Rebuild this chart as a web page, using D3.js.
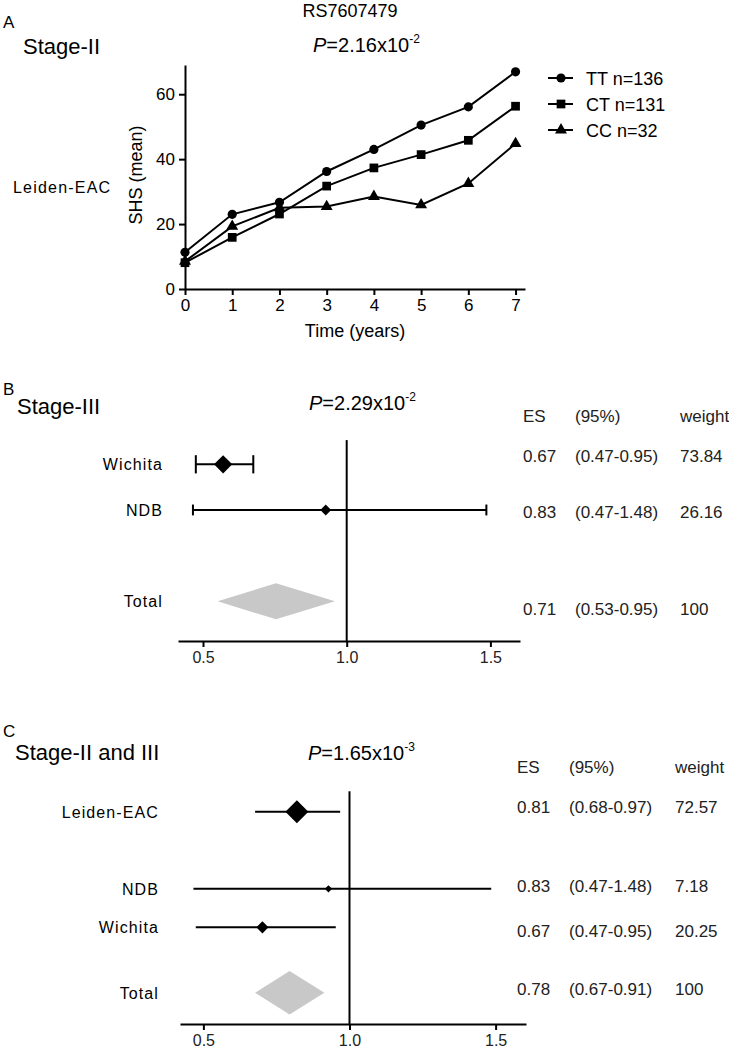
<!DOCTYPE html>
<html>
<head>
<meta charset="utf-8">
<script src="https://cdn.jsdelivr.net/npm/d3@7"></script>
<style>
  body { margin: 0; background: #fff; }
  svg { font-family: "Liberation Sans", Arial, sans-serif; }
</style>
</head>
<body>
<svg id="chart" width="729" height="1050"></svg>
<script>
// ---- panel A: mean SHS over time per genotype
const years = [0, 1, 2, 3, 4, 5, 6, 7];
const genotypes = ["TT n=136", "CT n=131", "CC n=32"];
const ttMeans = [11.3, 23.0, 26.7, 36.2, 43.0, 50.5, 56.1, 66.9];
const ctMeans = [8.1, 15.9, 23.1, 31.7, 37.3, 41.4, 45.8, 56.3];
const ccMeans = [8.5, 19.3, 25.0, 25.4, 28.5, 25.9, 32.5, 44.8];
const shsTicks = [0, 20, 40, 60];

// ---- panel B: Stage-III meta analysis
const studiesB = ["Wichita", "NDB", "Total"];
const rowsB = [0, 1, 3];
const estB = [0.57, 0.927, 0.754];
const lowB = [0.475, 0.465, 0.551];
const highB = [0.675, 1.486, 0.959];
const weightB = [73.84, 26.16, 100];
const esTextB = ["0.67", "0.83", "0.71"];
const ciTextB = ["(0.47-0.95)", "(0.47-1.48)", "(0.53-0.95)"];
const weightTextB = ["73.84", "26.16", "100"];

// ---- panel C: Stage-II and III meta analysis
const studiesC = ["Leiden-EAC", "NDB", "Wichita", "Total"];
const rowsC = [0, 2, 3, 4.7];
const estC = [0.82, 0.928, 0.702, 0.795];
const lowC = [0.677, 0.466, 0.474, 0.677];
const highC = [0.968, 1.485, 0.953, 0.914];
const weightC = [72.57, 7.18, 20.25, 100];
const esTextC = ["0.81", "0.83", "0.67", "0.78"];
const ciTextC = ["(0.68-0.97)", "(0.47-1.48)", "(0.47-0.95)", "(0.67-0.91)"];
const weightTextC = ["72.57", "7.18", "20.25", "100"];

const esTicks = [0.5, 1.0, 1.5];

const svg = d3.select("#chart");

function addText(x, y, str, size, opts = {}) {
    return svg.append("text")
        .attr("x", x).attr("y", y)
        .attr("font-size", size)
        .attr("text-anchor", opts.anchor || "start")
        .attr("letter-spacing", opts.ls || 0)
        .attr("fill", opts.fill || "#000")
        .text(str);
}

function addPValue(x, y, base, exp) {
    const t = svg.append("text").attr("x", x).attr("y", y).attr("font-size", 20);
    t.append("tspan").attr("font-style", "italic").text("P");
    t.append("tspan").text("=" + base);
    t.append("tspan").attr("dy", -9).attr("font-size", 12).text(exp);
}

// ---------- panel A
addText(350, 17, "RS7607479", 18, {anchor: "middle"});
addText(3, 28, "A", 17);
addText(23, 54, "Stage-II", 22);
addPValue(313, 52, "2.16x10", "-2");
addText(13, 193, "Leiden-EAC", 16, {ls: 1.2});

const xA = d3.scaleLinear().domain([0, 7.2]).range([185, 525]);
const yA = d3.scaleLinear().domain([0, 69]).range([289, 65]);

svg.append("g")
    .attr("transform", "translate(0,289)")
    .call(d3.axisBottom(xA).tickValues(years).tickSize(6).tickPadding(4).tickSizeOuter(0))
    .call(g => g.selectAll("text").attr("font-size", 17).attr("font-family", null).attr("fill", "#000"))
    .call(g => g.selectAll("line,path").attr("stroke", "#000").attr("stroke-width", 2));

svg.append("g")
    .attr("transform", "translate(185,0)")
    .call(d3.axisLeft(yA).tickValues(shsTicks).tickSize(6).tickPadding(4).tickSizeOuter(0))
    .call(g => g.selectAll("text").attr("font-size", 17).attr("font-family", null).attr("fill", "#000"))
    .call(g => g.selectAll("line,path").attr("stroke", "#000").attr("stroke-width", 2));

addText(355, 337, "Time (years)", 18, {anchor: "middle"});
svg.append("text")
    .attr("transform", "translate(142,175) rotate(-90)")
    .attr("text-anchor", "middle")
    .attr("font-size", 18)
    .text("SHS (mean)");

const seriesA = [
    {name: genotypes[0], values: ttMeans, symbol: d3.symbolCircle, size: 66},
    {name: genotypes[1], values: ctMeans, symbol: d3.symbolSquare, size: 76},
    {name: genotypes[2], values: ccMeans, symbol: d3.symbolTriangle, size: 62}
];

const line = d3.line().x((d, i) => xA(years[i])).y(d => yA(d));

seriesA.slice().reverse().forEach(s => {
    const g = svg.append("g");
    g.append("path")
        .attr("d", line(s.values))
        .attr("fill", "none")
        .attr("stroke", "#000")
        .attr("stroke-width", 2);
    g.selectAll("path.pt")
        .data(s.values)
        .enter().append("path")
        .attr("class", "pt")
        .attr("transform", (d, i) => `translate(${xA(years[i])},${yA(d)})`)
        .attr("d", d3.symbol(s.symbol, s.size))
        .attr("fill", "#000");
});

// legend
const legend = svg.append("g").attr("transform", "translate(548,78)");
seriesA.forEach((s, i) => {
    const row = legend.append("g").attr("transform", `translate(0,${i * 26})`);
    row.append("line").attr("x1", 0).attr("x2", 25).attr("stroke", "#000").attr("stroke-width", 2);
    row.append("path").attr("transform", "translate(13,0)").attr("d", d3.symbol(s.symbol, s.size)).attr("fill", "#000");
    row.append("text").attr("x", 38).attr("y", 6.5).attr("font-size", 18).text(s.name);
});

// ---------- forest plots
function drawForest(p) {
    const x = d3.scaleLinear().domain(p.xDomain).range(p.xRange);
    const y = d3.scaleLinear().domain([0, 3]).range(p.yRange);
    const size = d3.scaleSqrt().domain([0, 100]).range([0, p.maxSize]);
    const g = svg.append("g");
    const n = p.studies.length;
    const rows = d3.range(n).map(i => ({
        name: p.studies[i], row: p.rows[i], est: p.est[i],
        lo: p.low[i], hi: p.high[i], w: p.weight[i]
    }));
    const studies = rows.slice(0, n - 1);
    const total = rows[n - 1];

    // labels
    g.selectAll("text.lab")
        .data(rows)
        .enter().append("text")
        .attr("x", p.labelX)
        .attr("y", d => y(d.row))
        .attr("dy", "0.38em")
        .attr("text-anchor", "end")
        .attr("font-size", 16)
        .attr("letter-spacing", 1.1)
        .text(d => d.name);

    // axis
    g.append("g")
        .attr("transform", `translate(0,${p.axisY})`)
        .call(d3.axisBottom(x).tickValues(esTicks).tickFormat(d3.format(".1f")).tickSize(6).tickPadding(5).tickSizeOuter(0))
        .call(a => a.selectAll("text").attr("font-size", 16).attr("font-family", null).attr("fill", "#222"))
        .call(a => a.selectAll("line,path").attr("stroke", "#000").attr("stroke-width", 2));

    // null line at 1.0
    g.append("line")
        .attr("x1", x(1)).attr("x2", x(1))
        .attr("y1", y(-0.53)).attr("y2", p.axisY)
        .attr("stroke", "#000").attr("stroke-width", 2);

    // pooled diamond
    g.append("path")
        .attr("d", `M${x(total.lo)},${y(total.row)}L${x(total.est)},${y(total.row) - p.totalHalf}L${x(total.hi)},${y(total.row)}L${x(total.est)},${y(total.row) + p.totalHalf}Z`)
        .attr("fill", "#c8c8c8");

    // confidence intervals
    g.selectAll("line.ci")
        .data(studies)
        .enter().append("line")
        .attr("x1", d => x(d.lo)).attr("x2", d => x(d.hi))
        .attr("y1", d => y(d.row)).attr("y2", d => y(d.row))
        .attr("stroke", "#000").attr("stroke-width", 2);

    if (p.caps) {
        studies.forEach(d => {
            [d.lo, d.hi].forEach(v => {
                g.append("line")
                    .attr("x1", x(v)).attr("x2", x(v))
                    .attr("y1", y(d.row) - size(d.w)).attr("y2", y(d.row) + size(d.w))
                    .attr("stroke", "#000").attr("stroke-width", 2);
            });
        });
    }

    // study estimates
    g.selectAll("path.est")
        .data(studies)
        .enter().append("path")
        .attr("d", d => {
            const cx = x(d.est), cy = y(d.row), s = size(d.w);
            return `M${cx - s},${cy}L${cx},${cy - s}L${cx + s},${cy}L${cx},${cy + s}Z`;
        })
        .attr("fill", "#000");

    // table
    const t = svg.append("g").attr("font-size", 17).attr("fill", "#222");
    const cols = [p.colX[0], p.colX[1], p.colX[2]];
    ["ES", "(95%)", "weight"].forEach((h, i) => {
        t.append("text").attr("x", cols[i]).attr("y", p.headY).text(h);
    });
    [p.esText, p.ciText, p.wText].forEach((col, ci) => {
        t.selectAll(null)
            .data(col)
            .enter().append("text")
            .attr("x", cols[ci])
            .attr("y", (d, i) => p.tableY[i])
            .text(d => d);
    });
}

addText(3, 395, "B", 17);
addText(17, 414, "Stage-III", 22);
addPValue(309, 410, "2.29x10", "-2");

drawForest({
    studies: studiesB, rows: rowsB, est: estB, low: lowB, high: highB, weight: weightB,
    esText: esTextB, ciText: ciTextB, wText: weightTextB,
    xDomain: [0.413, 1.603], xRange: [178, 520],
    yRange: [464.3, 601.3], axisY: 641, labelX: 163,
    maxSize: 10.6, totalHalf: 18, caps: true,
    colX: [523, 575, 680], headY: 422, tableY: [462, 518, 615]
});

addText(3, 737, "C", 17);
addText(15, 760, "Stage-II and III", 22);
addPValue(308, 760, "1.65x10", "-3");

drawForest({
    studies: studiesC, rows: rowsC, est: estC, low: lowC, high: highC, weight: weightC,
    esText: esTextC, ciText: ciTextC, wText: weightTextC,
    xDomain: [0.42, 1.604], xRange: [180, 526],
    yRange: [811.7, 927.3], axisY: 1024, labelX: 159,
    maxSize: 13.5, totalHalf: 21.7, caps: false,
    colX: [517, 569, 675], headY: 773, tableY: [813, 892, 937, 995]
});
</script>
</body>
</html>
